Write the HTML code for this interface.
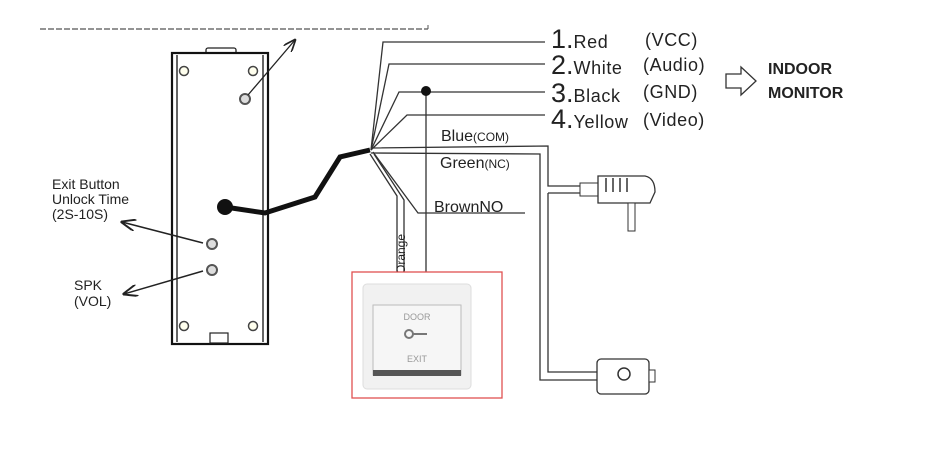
<!DOCTYPE html>
<html><head><style>
html,body{margin:0;padding:0;background:#fff;width:930px;height:465px;overflow:hidden}
svg{display:block}
text{font-family:"Liberation Sans",sans-serif;fill:#222}
</style></head><body>
<svg width="930" height="465" viewBox="0 0 930 465">
<defs><marker id="ar" markerWidth="10" markerHeight="8" refX="9" refY="4" orient="auto"><path d="M0,0 L10,4 L0,8" fill="none" stroke="#222" stroke-width="1.3"/></marker></defs>
<line x1="40" y1="29" x2="428" y2="29" stroke="#555" stroke-width="1.2" stroke-dasharray="6,2"/>
<line x1="428" y1="25" x2="428" y2="29" stroke="#555"/>
<rect x="206" y="48" width="30" height="6" rx="2" fill="#fff" stroke="#222" stroke-width="1.3"/>
<rect x="172" y="53" width="96" height="291" fill="#fff" stroke="#111" stroke-width="2.2"/>
<line x1="177" y1="55" x2="177" y2="342" stroke="#222" stroke-width="1.4"/>
<line x1="263" y1="55" x2="263" y2="342" stroke="#222" stroke-width="1.4"/>
<rect x="210" y="333" width="18" height="10" fill="#fff" stroke="#222" stroke-width="1.2"/>
<g fill="#ffe" stroke="#444" stroke-width="1.5">
<circle cx="184" cy="71" r="4.5"/><circle cx="253" cy="71" r="4.5"/>
<circle cx="184" cy="326" r="4.5"/><circle cx="253" cy="326" r="4.5"/>
</g>
<g fill="#ddd" stroke="#555" stroke-width="2">
<circle cx="245" cy="99" r="5"/><circle cx="212" cy="244" r="5"/><circle cx="212" cy="270" r="5"/>
</g>
<line x1="248" y1="95" x2="295" y2="40" stroke="#222" stroke-width="1.3" marker-end="url(#ar)"/>
<line x1="203" y1="243" x2="122" y2="222" stroke="#222" stroke-width="1.5" marker-end="url(#ar)"/>
<line x1="203" y1="271" x2="124" y2="294" stroke="#222" stroke-width="1.5" marker-end="url(#ar)"/>
<text x="52" y="189" font-size="14">Exit Button</text>
<text x="52" y="204" font-size="14">Unlock Time</text>
<text x="52" y="219" font-size="14">(2S-10S)</text>
<text x="74" y="290" font-size="14">SPK</text>
<text x="74" y="306" font-size="14">(VOL)</text>
<path d="M225,207 L265,213 L315,197 L340,157 L370,150" fill="none" stroke="#111" stroke-width="5"/>
<circle cx="225" cy="207" r="8" fill="#111"/>
<g fill="none" stroke="#333" stroke-width="1.3">
<path d="M371,150 L383,42 L545,42"/>
<path d="M371,150 L389,64 L545,64"/>
<path d="M371,150 L399,92 L545,92"/>
<path d="M371,150 L407,115 L545,115"/>
<path d="M371,148 L548,146 L548,186 L580,186"/>
<path d="M371,153 L540,154 L540,380 L600,380"/>
<path d="M548,193 L580,193 M548,193 L548,372 L600,372"/>
<path d="M373,152 L418,213 L525,213"/>
<path d="M370,154 L397,196 L397,272"/>
<path d="M374,154 L404,200 L404,272"/>
<line x1="426" y1="91" x2="426" y2="272"/>
</g>
<circle cx="426" cy="91" r="5" fill="#111"/>
<text transform="translate(405,274) rotate(-90)" font-size="12">Orange</text>
<text x="441" y="141" font-size="16">Blue<tspan font-size="12">(COM)</tspan></text>
<text x="440" y="168" font-size="16">Green<tspan font-size="12">(NC)</tspan></text>
<text x="434" y="212" font-size="16">BrownNO</text>
<g font-size="18" letter-spacing="0.6">
<text x="551" y="48"><tspan font-size="27" letter-spacing="0">1.</tspan>Red</text><text x="645" y="46">(VCC)</text>
<text x="551" y="74"><tspan font-size="27" letter-spacing="0">2.</tspan>White</text><text x="643" y="71">(Audio)</text>
<text x="551" y="102"><tspan font-size="27" letter-spacing="0">3.</tspan>Black</text><text x="643" y="98">(GND)</text>
<text x="551" y="128"><tspan font-size="27" letter-spacing="0">4.</tspan>Yellow</text><text x="643" y="126">(Video)</text>
</g>
<path d="M726,74 L741,74 L741,67 L756,81 L741,95 L741,88 L726,88 Z" fill="#fff" stroke="#333" stroke-width="1.3"/>
<text x="768" y="74" font-size="16" font-weight="bold">INDOOR</text>
<text x="768" y="98" font-size="16" font-weight="bold">MONITOR</text>
<rect x="580" y="183" width="18" height="13" fill="#fff" stroke="#333"/>
<path d="M598,176 L645,176 Q655,178 655,192 L650,203 L598,203 Z" fill="#fff" stroke="#333" stroke-width="1.3"/>
<g stroke="#333" stroke-width="1.5"><line x1="606" y1="178" x2="606" y2="192"/><line x1="613" y1="178" x2="613" y2="192"/><line x1="620" y1="178" x2="620" y2="192"/><line x1="627" y1="178" x2="627" y2="192"/></g>
<rect x="628" y="203" width="7" height="28" fill="#fff" stroke="#333"/>
<rect x="597" y="359" width="52" height="35" rx="4" fill="#fff" stroke="#333" stroke-width="1.3"/>
<circle cx="624" cy="374" r="6" fill="#fff" stroke="#333" stroke-width="1.5"/>
<rect x="649" y="370" width="6" height="12" fill="#fff" stroke="#333"/>
<rect x="352" y="272" width="150" height="126" fill="#fff" stroke="#e05050" stroke-width="1.3"/>
<rect x="363" y="284" width="108" height="105" rx="4" fill="#f1f1f1" stroke="#ddd"/>
<rect x="373" y="305" width="88" height="70" fill="#f6f6f6" stroke="#bbb"/>
<rect x="373" y="370" width="88" height="6" fill="#555"/>
<text x="417" y="320" font-size="9" text-anchor="middle" style="fill:#999">DOOR</text>
<text x="417" y="362" font-size="9" text-anchor="middle" style="fill:#999">EXIT</text>
<circle cx="409" cy="334" r="4" fill="none" stroke="#777" stroke-width="2"/>
<line x1="413" y1="334" x2="427" y2="334" stroke="#777" stroke-width="2"/>
</svg>
</body></html>
